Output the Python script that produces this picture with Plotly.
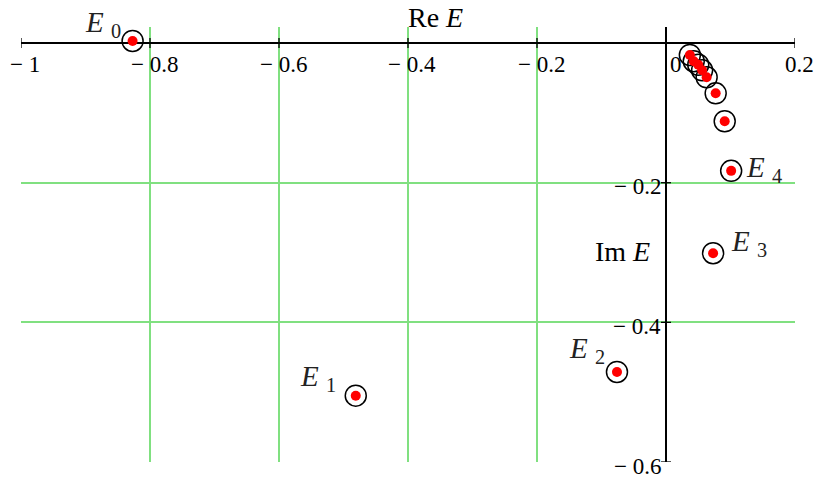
import plotly.graph_objects as go

# eigenvalues E = Re E + i Im E
re_e = [-0.827, -0.481, -0.076, 0.073, 0.101, 0.091, 0.077, 0.063, 0.056, 0.050, 0.043, 0.037]
im_e = [0.003, -0.505, -0.471, -0.301, -0.183, -0.112, -0.072, -0.049, -0.039, -0.031, -0.026, -0.017]

# labelled points: index into the arrays, subscript, label offset in px
lab_idx = [0, 1, 2, 3, 4]
lab_sub = ["0", "1", "2", "3", "4"]
lab_dx = [-30, -38, -30, 36, 33]
lab_dy = [17, 18, 22, 10, 2]

x_ticks = [-1, -0.8, -0.6, -0.4, -0.2, 0, 0.2]
x_tick_text = ["\u2212 1", "\u2212 0.8", "\u2212 0.6", "\u2212 0.4", "\u2212 0.2", "0", "0.2"]
y_ticks = [-0.6, -0.4, -0.2]
y_tick_text = ["\u2212 0.6", "\u2212 0.4", "\u2212 0.2"]

serif = "Liberation Serif, Times New Roman, serif"
green = "#80e080"

fig = go.Figure()
fig.add_trace(go.Scatter(x=re_e, y=im_e, mode="markers", hoverinfo="skip",
                         marker=dict(size=21, color="rgba(0,0,0,0)",
                                     line=dict(color="black", width=1.5))))
fig.add_trace(go.Scatter(x=re_e, y=im_e, mode="markers",
                         marker=dict(size=10, color="#ff0000", line=dict(width=0))))

# tick marks crossing the axes
for xv in x_ticks:
    if xv == 0:
        continue
    fig.add_shape(type="line", xref="x", yref="y", x0=xv, x1=xv,
                  ysizemode="pixel", yanchor=0, y0=-5, y1=5,
                  line=dict(color="black", width=1.3))
for yv in y_ticks:
    fig.add_shape(type="line", xref="x", yref="y", y0=yv, y1=yv,
                  xsizemode="pixel", xanchor=0, x0=-5, x1=5,
                  line=dict(color="black", width=1.3))

# tick labels
for xv, t in zip(x_ticks, x_tick_text):
    fig.add_annotation(x=xv, y=0, text=t, showarrow=False, xanchor="center",
                       yanchor="top", yshift=-7, xshift=4 if xv != 0 else 10,
                       font=dict(family=serif, size=23, color="black"))
for yv, t in zip(y_ticks, y_tick_text):
    fig.add_annotation(x=0, y=yv, text=t, showarrow=False, xanchor="right",
                       yanchor="middle", yshift=-4, xshift=-3,
                       font=dict(family=serif, size=23, color="black"))

# axis titles
fig.add_annotation(x=-0.358, y=0, text="Re&nbsp;<i>E</i>", showarrow=False,
                   yanchor="bottom", yshift=8,
                   font=dict(family=serif, size=28, color="black"))
fig.add_annotation(x=-0.022, y=-0.299, text="Im&nbsp;<i>E</i>", showarrow=False,
                   xanchor="right", yanchor="middle",
                   font=dict(family=serif, size=28, color="black"))

# point labels
for i, s, dx, dy in zip(lab_idx, lab_sub, lab_dx, lab_dy):
    fig.add_annotation(x=re_e[i], y=im_e[i], text="<i>E</i> <sub>" + s + "</sub>",
                       showarrow=False, xshift=dx, yshift=dy,
                       font=dict(family=serif, size=29, color="#222222"))

fig.update_layout(
    width=822, height=478,
    margin=dict(l=21, r=27, t=27, b=16),
    paper_bgcolor="white", plot_bgcolor="white",
    showlegend=False,
    xaxis=dict(range=[-1, 0.2], tickvals=x_ticks, showticklabels=False,
               showgrid=True, gridcolor=green, gridwidth=1.5,
               zeroline=True, zerolinecolor="black", zerolinewidth=1.5,
               showline=False),
    yaxis=dict(range=[-0.6, 0.023], tickvals=[-0.6, -0.4, -0.2, 0],
               showticklabels=False,
               showgrid=True, gridcolor=green, gridwidth=1.5,
               zeroline=True, zerolinecolor="black", zerolinewidth=1.5,
               showline=False),
)

fig.write_html("out.html", config={"displayModeBar": False},
               post_script="document.body.style.margin='0px';")
